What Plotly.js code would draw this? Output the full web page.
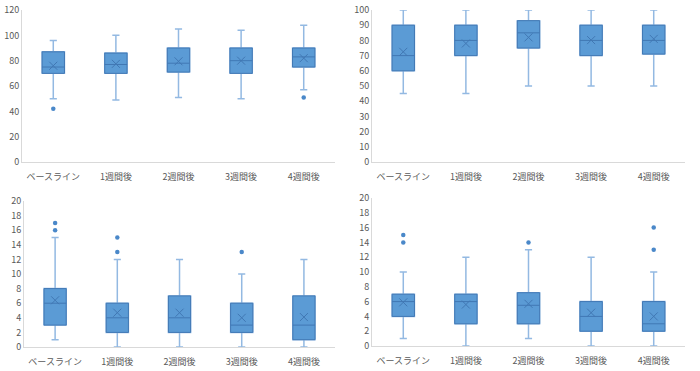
<!DOCTYPE html>
<html>
<head>
<meta charset="utf-8">
<script src="https://cdn.plot.ly/plotly-3.0.1.min.js"></script>
<style>html,body{margin:0;padding:0;background:#fff;}#chart{width:700px;height:371px;}</style>
</head>
<body>
<div id="chart"></div>
<script>
const categories = ["ベースライン", "1週間後", "2週間後", "3週間後", "4週間後"];

// Panel 1 (top-left)
const p1Lower = [50, 49, 51, 50, 57];
const p1Q1 = [70, 70, 71, 70, 75];
const p1Median = [75, 77, 78, 80, 83];
const p1Q3 = [87, 86, 90, 90, 90];
const p1Upper = [96, 100, 105, 104, 108];
const p1Mean = [76, 77.5, 79.5, 80, 82];
const p1OutCat = ["ベースライン", "4週間後"];
const p1OutVal = [42, 51];

// Panel 2 (top-right)
const p2Lower = [45, 45, 50, 50, 50];
const p2Q1 = [60, 70, 75, 70, 71];
const p2Median = [70, 80, 85, 80, 80];
const p2Q3 = [90, 90, 93, 90, 90];
const p2Upper = [100, 100, 100, 100, 100];
const p2Mean = [72.5, 78, 82, 80.2, 81];
const p2OutCat = [];
const p2OutVal = [];

// Panel 3 (bottom-left)
const p3Lower = [1, 0, 0, 0, 0];
const p3Q1 = [3, 2, 2, 2, 1];
const p3Median = [6, 4, 4, 3, 3];
const p3Q3 = [8, 6, 7, 6, 7];
const p3Upper = [15, 12, 12, 10, 12];
const p3Mean = [6.4, 4.7, 4.7, 4.0, 4.1];
const p3OutCat = ["ベースライン", "ベースライン", "1週間後", "1週間後", "3週間後"];
const p3OutVal = [17, 16, 15, 13, 13];

// Panel 4 (bottom-right)
const p4Lower = [1, 0, 1, 0, 0];
const p4Q1 = [4, 3, 3, 2, 2];
const p4Median = [6, 6, 5.5, 4, 3];
const p4Q3 = [7, 7, 7.2, 6, 6];
const p4Upper = [10, 12, 13, 12, 10];
const p4Mean = [5.9, 5.6, 5.7, 4.5, 4.0];
const p4OutCat = ["ベースライン", "ベースライン", "2週間後", "4週間後", "4週間後"];
const p4OutVal = [15, 14, 14, 16, 13];

const FILL = "#5b9bd5";
const BORDER = "#4178b4";
const WHISK = "#93b9e2";

function panelTraces(ax, lower, q1, med, q3, upper, mean, outCat, outVal) {
  const xa = "x" + (ax === 1 ? "" : ax);
  const ya = "y" + (ax === 1 ? "" : ax);
  return [
    {
      type: "box", orientation: "v", x: categories, xaxis: xa, yaxis: ya,
      q1: q1, median: med, q3: q3, lowerfence: lower, upperfence: upper,
      line: {color: WHISK, width: 1.5}, fillcolor: "rgba(0,0,0,0)",
      whiskerwidth: 0.32, boxpoints: false, hoverinfo: "skip", showlegend: false
    },
    {
      type: "box", orientation: "v", x: categories, xaxis: xa, yaxis: ya,
      q1: q1, median: med, q3: q3, lowerfence: q1, upperfence: q3,
      line: {color: BORDER, width: 1}, fillcolor: FILL,
      whiskerwidth: 0, boxpoints: false, showlegend: false
    },
    {
      type: "scatter", mode: "markers", x: categories, y: mean, xaxis: xa, yaxis: ya,
      marker: {symbol: "x-thin-open", size: 8, line: {color: BORDER, width: 1}, color: BORDER},
      showlegend: false
    },
    {
      type: "scatter", mode: "markers", x: outCat, y: outVal, xaxis: xa, yaxis: ya,
      marker: {symbol: "circle", size: 4.5, color: "#4a88c9"},
      showlegend: false
    }
  ];
}

const data = [].concat(
  panelTraces(1, p1Lower, p1Q1, p1Median, p1Q3, p1Upper, p1Mean, p1OutCat, p1OutVal),
  panelTraces(2, p2Lower, p2Q1, p2Median, p2Q3, p2Upper, p2Mean, p2OutCat, p2OutVal),
  panelTraces(3, p3Lower, p3Q1, p3Median, p3Q3, p3Upper, p3Mean, p3OutCat, p3OutVal),
  panelTraces(4, p4Lower, p4Q1, p4Median, p4Q3, p4Upper, p4Mean, p4OutCat, p4OutVal)
);

const tickFont = {family: "Noto Sans CJK JP, sans-serif", size: 9, color: "#595959"};
function xAx(domain, anchor) {
  return {domain: domain, anchor: anchor, type: "category", categoryorder: "array", categoryarray: categories,
    showline: true, linecolor: "#d9d9d9", linewidth: 1, showgrid: false, zeroline: false,
    ticks: "", ticklabelstandoff: 6, tickfont: tickFont, fixedrange: true};
}
function yAx(domain, anchor, range, dtick) {
  return {domain: domain, anchor: anchor, range: range, dtick: dtick, tick0: 0,
    showline: true, linecolor: "#d9d9d9", linewidth: 1, showgrid: false, zeroline: false,
    ticks: "", tickfont: tickFont, fixedrange: true};
}

const layout = {
  width: 700, height: 371,
  margin: {l: 0, r: 0, t: 0, b: 0},
  paper_bgcolor: "#ffffff", plot_bgcolor: "#ffffff",
  boxmode: "overlay", boxgap: 0.49,
  showlegend: false,
  xaxis: xAx([0.0314, 0.4786], "y"),
  yaxis: yAx([0.5633, 0.973], "x", [0, 120], 20),
  xaxis2: xAx([0.5314, 0.9786], "y2"),
  yaxis2: yAx([0.5633, 0.973], "x2", [0, 100], 10),
  xaxis3: xAx([0.0343, 0.4786], "y3"),
  yaxis3: yAx([0.0647, 0.4582], "x3", [0, 20], 2),
  xaxis4: xAx([0.5314, 0.9786], "y4"),
  yaxis4: yAx([0.0674, 0.4663], "x4", [0, 20], 2)
};

Plotly.newPlot("chart", data, layout, {displayModeBar: false, staticPlot: true});
</script>
</body>
</html>
